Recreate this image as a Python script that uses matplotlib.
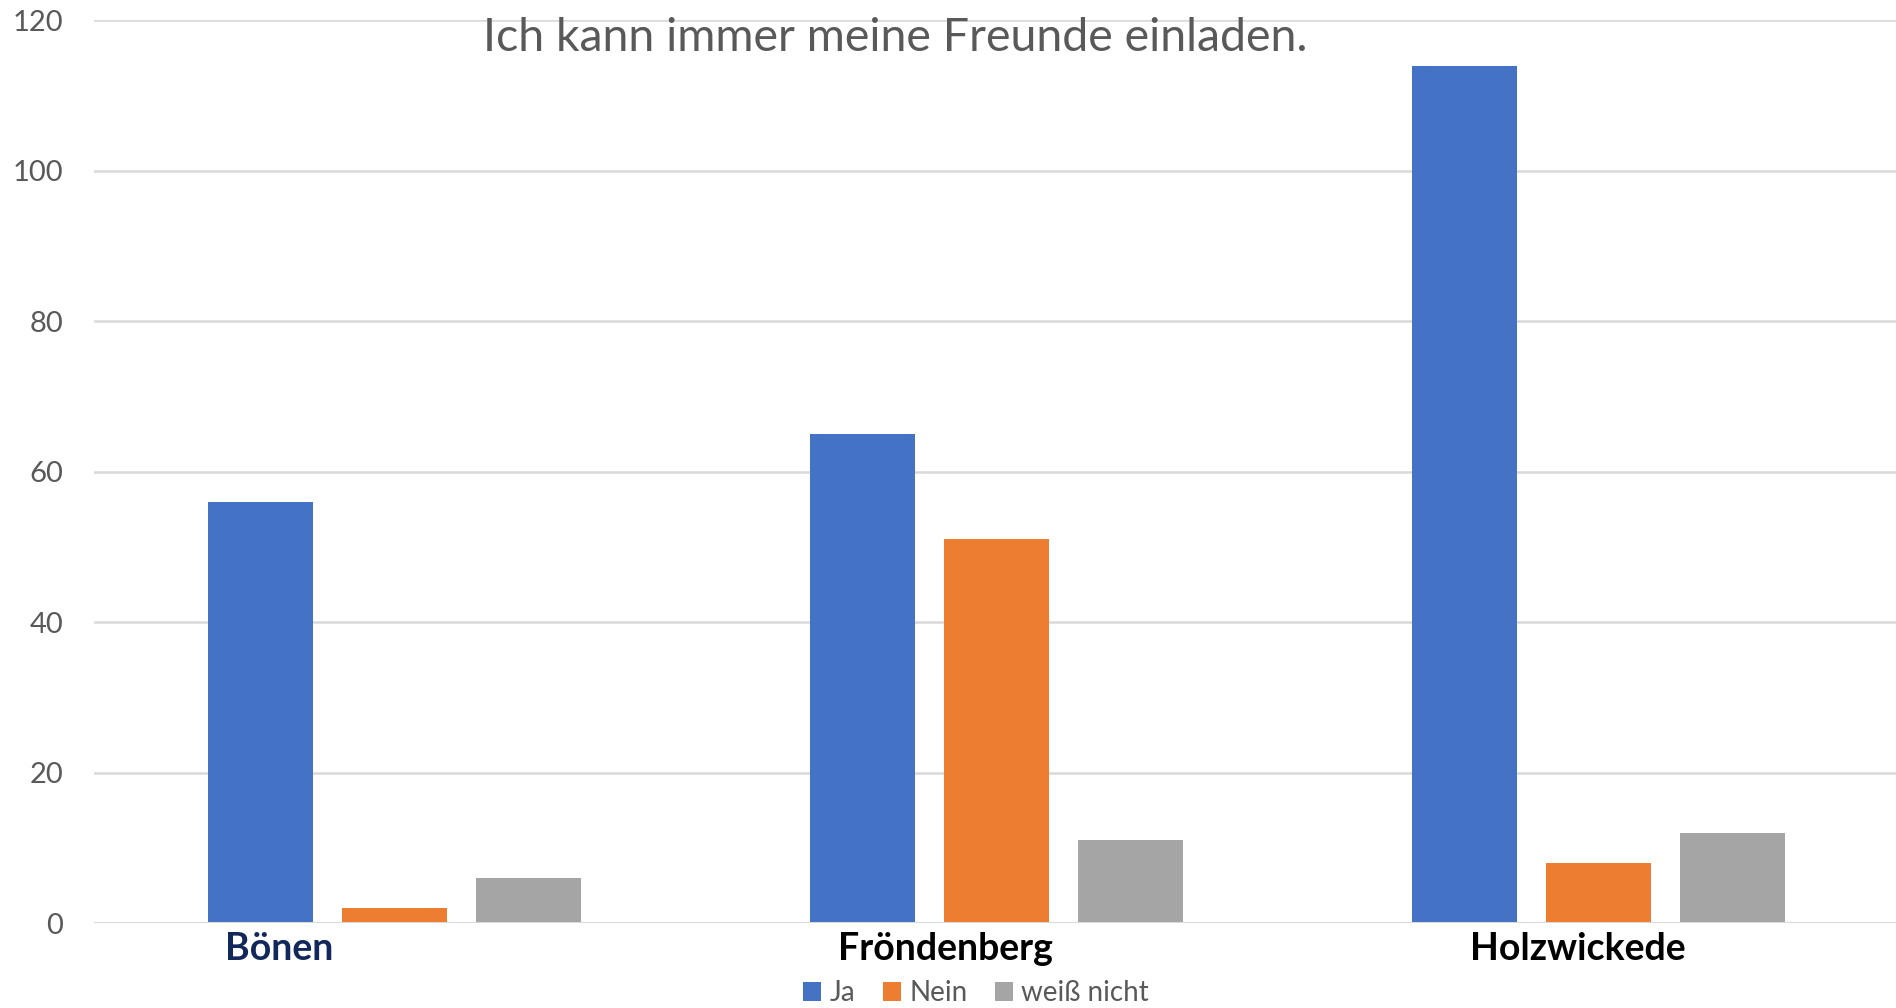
import matplotlib
matplotlib.use("Agg")
import matplotlib.pyplot as plt
import matplotlib.transforms as mtransforms
import numpy as np

categories = ["Bönen", "Fröndenberg", "Holzwickede"]
series_names = ["Ja", "Nein", "weiß nicht"]
ja = [56, 65, 114]
nein = [2, 51, 8]
weiss_nicht = [6, 11, 12]
title = "Ich kann immer meine Freunde einladen."
yticks = [0, 20, 40, 60, 80, 100, 120]

colors = ["#4472C4", "#ED7D31", "#A5A5A5"]
label_colors = ["#13285A", "#000000", "#000000"]
label_shift = [-0.191, -0.084, -0.035]

plt.rcParams['font.family'] = ['Lato', 'DejaVu Sans']

fig = plt.figure(figsize=(18.96, 10.08), dpi=100)
ax = fig.add_axes([93.5/1896, 1-923/1008, 1806/1896, (923-20.5)/1008])

x = np.arange(len(categories))
width = 0.1744
step = 0.2218
for i, (name, vals) in enumerate(zip(series_names, [ja, nein, weiss_nicht])):
    ax.bar(x + (i-1)*step, vals, width, color=colors[i], label=name, zorder=3)

ax.set_xlim(-0.5, 2.5)
ax.set_ylim(0, 120)
ax.set_yticks(yticks)
ax.set_yticklabels([str(t) for t in yticks], fontsize=21, color="#595959")
ax.tick_params(axis='y', length=0, pad=22)
ax.set_xticks([])
ax.grid(axis='y', color="#D9D9D9", linewidth=1.8, zorder=0)
for s in ax.spines.values():
    s.set_visible(False)
ax.axhline(0, color="#D9D9D9", linewidth=2.2, zorder=4)

trans = mtransforms.blended_transform_factory(ax.transData, fig.transFigure)
for i, c in enumerate(categories):
    ax.text(x[i] + label_shift[i], 1-960/1008, c, transform=trans, ha='center', va='baseline',
            fontsize=27, fontweight='bold', color=label_colors[i])

fig.text(895/1896, 1-51/1008, title, ha='center', va='baseline', fontsize=33.5, color="#595959")

leg = fig.legend(loc='center', bbox_to_anchor=(976/1896, 1-993/1008), ncol=3, frameon=False,
                 fontsize=20, handlelength=0.65, handleheight=0.65, handletextpad=0.3,
                 columnspacing=1.0, borderaxespad=0, borderpad=0)
for t in leg.get_texts():
    t.set_color("#595959")

fig.savefig("out.png", dpi=100)
